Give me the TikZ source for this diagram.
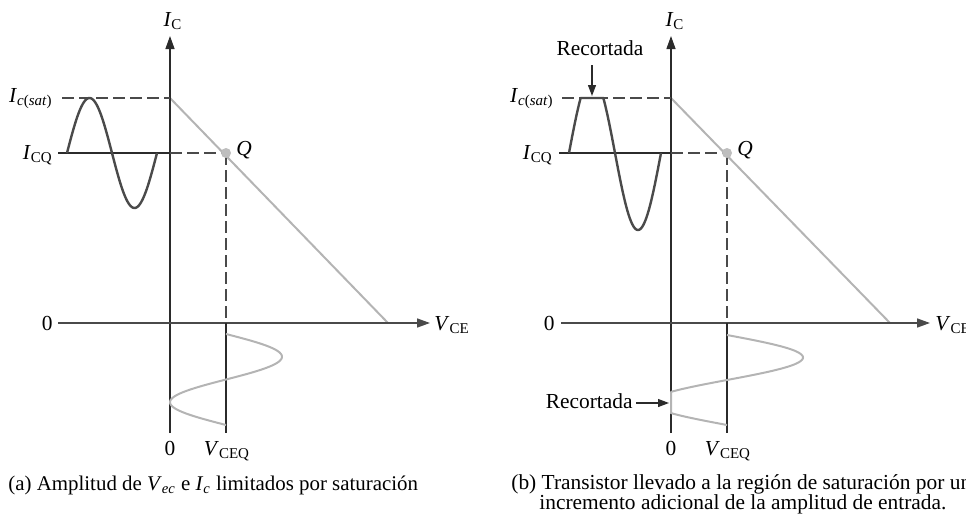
\documentclass[tikz,border=0pt]{standalone}
\usepackage{fontspec}
\setmainfont{Liberation Serif}
\usetikzlibrary{arrows.meta}
\definecolor{axiscol}{HTML}{2B2B2B}
\definecolor{wavedark}{HTML}{4A4A4A}
\definecolor{lightg}{HTML}{B4B4B4}
\definecolor{qdot}{HTML}{BEBEBE}
\newcommand{\mysub}[1]{\textsubscript{#1}}
\tikzset{
  axisline/.style={draw=axiscol, line width=0.65pt},
  haxis/.style={draw=wavedark, line width=0.8pt, -{Triangle[length=6.5pt,width=4.5pt]}},
  vaxis/.style={draw=axiscol, line width=0.65pt, -{Triangle[length=6.5pt,width=4.5pt]}},
  dashline/.style={draw=wavedark, line width=0.65pt, dash pattern=on 6pt off 2.5pt},
  loadline/.style={draw=lightg, line width=1pt},
  darkwave/.style={draw=wavedark, line width=1.2pt},
  lightwave/.style={draw=lightg, line width=1pt},
  lbl/.style={inner sep=0pt, font=\fontsize{10.7}{12.8}\selectfont},
  caplbl/.style={inner sep=0pt, font=\fontsize{10.45}{12.5}\selectfont},
  ptr/.style={draw=axiscol, line width=0.6pt, -{Triangle[length=5.5pt,width=4pt]}},
  qpt/.style={circle, fill=qdot, inner sep=0pt, minimum size=5pt}
}
\begin{document}
\begin{tikzpicture}[x=0.5pt,y=-0.5pt]
\useasboundingbox (0,0) rectangle (966,525);

% ================= Panel (a) =================
\coordinate (aBot) at (170,433);
\coordinate (aTop) at (170,36);
\coordinate (aSat) at (170,98);
\coordinate (aSatL) at (62,98);
\coordinate (aCQ) at (170,153);
\coordinate (aCQL) at (58,153);
\coordinate (aX0) at (58,323);
\coordinate (aXEnd) at (430,323);
\coordinate (aVcut) at (388,323);
\coordinate (aQc) at (226,153);
\coordinate (aQv) at (226,323);
\coordinate (aQb) at (226,433);

\draw[loadline] (aSat) -- (aVcut);
\draw[vaxis] (aBot) -- (aTop);
\draw[haxis] (aX0) -- (aXEnd);
\draw[dashline] (aSatL) -- (aSat);
\draw[axisline] (aCQL) -- (aCQ);
\draw[dashline] (aCQ) -- (aQc);
\draw[dashline] (aQc) -- (aQv);
\draw[axisline] (aQv) -- (aQb);
\node[qpt] (aQ) at (aQc) {};

\draw[darkwave] plot[domain=67:157, samples=80, smooth] (\x, {153-55*sin(4*(\x-67))});
\draw[lightwave] plot[domain=334:425, samples=80, smooth, variable=\y] ({226+56*sin(3.956*(\y-334))}, \y);

\node[lbl, anchor=base] (aIC) at (173,26) {\textit{I}\mysub{C}};
\node[lbl, anchor=base east] (aIsatL) at (53,102) {\textit{I}\mysub{\textit{c}(\textit{sat})}};
\node[lbl, anchor=base east] (aICQ) at (53,159) {\textit{I}\mysub{CQ}};
\node[lbl, anchor=base west] (aQl) at (236,155) {\textit{Q}};
\node[lbl, anchor=base east] (aZl) at (53,330) {0};
\node[lbl, anchor=base] (aZb) at (170,455) {0};
\node[lbl, anchor=base] (aVCEQ) at (227,455) {\textit{V}\mysub{CEQ}};
\node[lbl, anchor=base west] (aVCE) at (434,330) {\textit{V}\mysub{CE}};
\node[caplbl, anchor=base west] (aCap) at (8,490) {(a) Amplitud de \textit{V}\mysub{\textit{ec}} e \textit{I}\mysub{\textit{c}} limitados por saturación};

% ================= Panel (b) =================
\coordinate (bBot) at (671,433);
\coordinate (bTop) at (671,36);
\coordinate (bSat) at (671,98);
\coordinate (bSatL) at (562,98);
\coordinate (bCQ) at (671,153);
\coordinate (bCQL) at (559,153);
\coordinate (bX0) at (561,323);
\coordinate (bXEnd) at (930,323);
\coordinate (bVcut) at (890,323);
\coordinate (bQc) at (727,153);
\coordinate (bQv) at (727,323);
\coordinate (bQb) at (727,433);

\draw[loadline] (bSat) -- (bVcut);
\draw[vaxis] (bBot) -- (bTop);
\draw[haxis] (bX0) -- (bXEnd);
\draw[dashline] (bSatL) -- (bSat);
\draw[axisline] (bCQL) -- (bCQ);
\draw[dashline] (bCQ) -- (bQc);
\draw[dashline] (bQc) -- (bQv);
\draw[axisline] (bQv) -- (bQb);
\node[qpt] (bQ) at (bQc) {};

\draw[darkwave] plot[domain=569:661, samples=120] (\x, {max(98,153-77*sin(3.913*(\x-569)))});
\draw[lightwave] plot[domain=335:425, samples=120, variable=\y] ({max(671,727+76*sin(4*(\y-335)))}, \y);

\node[lbl, anchor=base] (bIC) at (675,26) {\textit{I}\mysub{C}};
\node[lbl, anchor=base east] (bIsatL) at (554,102) {\textit{I}\mysub{\textit{c}(\textit{sat})}};
\node[lbl, anchor=base east] (bICQ) at (553,159) {\textit{I}\mysub{CQ}};
\node[lbl, anchor=base west] (bQl) at (737,155) {\textit{Q}};
\node[lbl, anchor=base east] (bZl) at (555,330) {0};
\node[lbl, anchor=base] (bZb) at (671,455) {0};
\node[lbl, anchor=base] (bVCEQ) at (728,455) {\textit{V}\mysub{CEQ}};
\node[lbl, anchor=base west] (bVCE) at (935,330) {\textit{V}\mysub{CE}};

\node[lbl, anchor=base] (bRec1) at (600,55) {Recortada};
\coordinate (bRec1a) at (592,65);
\coordinate (bRec1b) at (592,96);
\draw[ptr] (bRec1a) -- (bRec1b);

\node[lbl, anchor=base east] (bRec2) at (633,408) {Recortada};
\coordinate (bRec2a) at (636,403);
\coordinate (bRec2b) at (669,403);
\draw[ptr] (bRec2a) -- (bRec2b);

\node[lbl, anchor=base west] (bCap1) at (511,489) {(b) Transistor llevado a la región de saturación por un};
\node[lbl, anchor=base west] (bCap2) at (539,509) {incremento adicional de la amplitud de entrada.};
\end{tikzpicture}
\end{document}
